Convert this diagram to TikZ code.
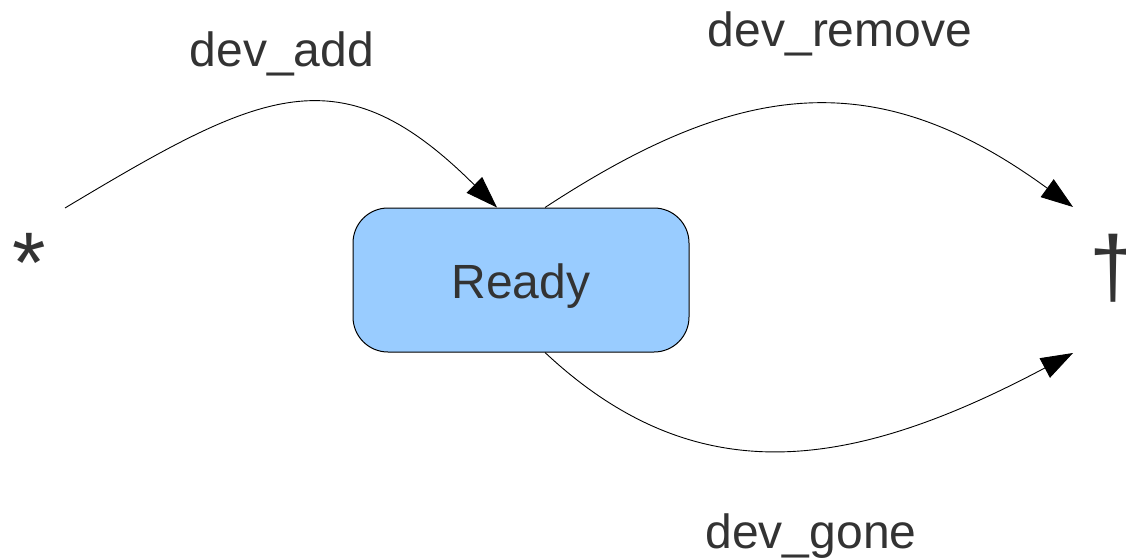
\documentclass[tikz,border=0pt]{standalone}
\usepackage{fontspec}
\setmainfont{Liberation Sans}
\usetikzlibrary{arrows.meta,positioning}
\definecolor{stText}{HTML}{333333}
\definecolor{stReady}{HTML}{99CCFF}
\tikzset{
  statebox/.style={
    draw=black, fill=stReady, rounded corners=35pt, line width=1pt,
    minimum width=336pt, minimum height=144pt, text=stText,
    font=\fontsize{48}{58}\selectfont, text height=36pt, text depth=0pt
  },
  evlabel/.style={text=stText, font=\fontsize{48}{58}\selectfont, anchor=base, inner sep=0pt},
  pseudo/.style={text=stText, font=\fontsize{86}{100}\selectfont, anchor=base, inner sep=0pt},
  trans/.style={-{Triangle[length=32pt, width=22pt]}, line width=0.9pt, black}
}
\begin{document}
\begin{tikzpicture}[x=1pt, y=-1pt]
  \useasboundingbox (0,0) rectangle (1126,559);
  \node[statebox] (ready) at (521,280) {Ready};
  \node[pseudo] (init) at (29,292) {*};
  \node[pseudo] (final) at (1113,296) {†};
  \coordinate (addStart) at (65,208);
  \coordinate (removeEnd) at (1073,207);
  \coordinate (goneEnd) at (1073,353);

  \draw[trans] (addStart) .. controls (262,90) and (340,51) .. ([xshift=-24pt]ready.north);
  \draw[trans] ([xshift=24pt]ready.north) .. controls (741,79) and (877,64) .. (removeEnd);
  \draw[trans] ([xshift=24pt]ready.south) .. controls (695,493) and (849,472) .. (goneEnd);

  \node[evlabel] (add) at (282,67) {dev\_add};
  \node[evlabel] (remove) at (840,47) {dev\_remove};
  \node[evlabel] (gone) at (811,548) {dev\_gone};
\end{tikzpicture}
\end{document}
